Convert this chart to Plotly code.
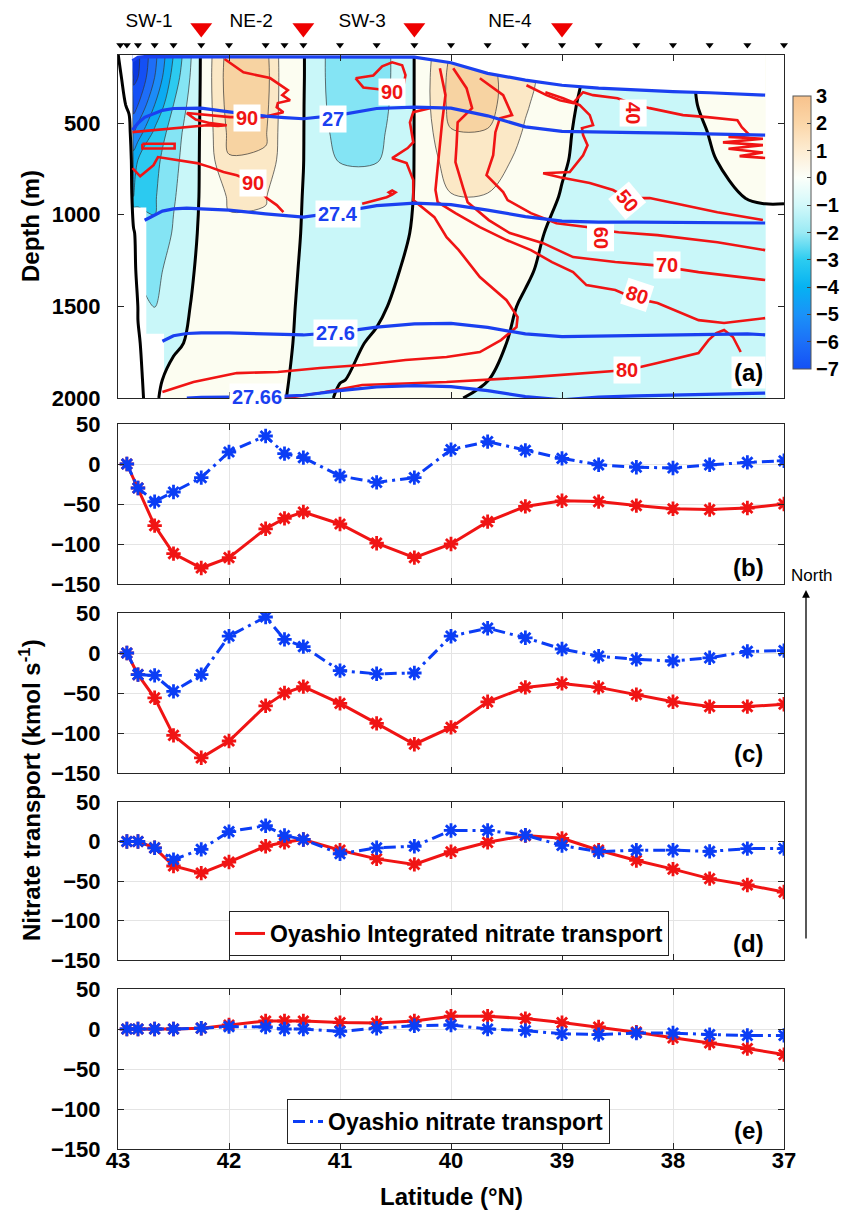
import numpy as np
import plotly.graph_objects as go

# ===================== DATA =====================
# CTD stations along the section (deg N) and deepest sampled depth (m) in each station cell
station_lat = [42.98, 42.92, 42.82, 42.67, 42.5, 42.25, 42.0, 41.67, 41.5, 41.33, 41.0,
               40.67, 40.33, 40.0, 39.67, 39.33, 39.0, 38.67, 38.33, 38.0, 37.67, 37.33, 37.0]
cast_max_depth = [0, 0, 960, 1650, 2000, 2000, 2000, 2000, 2000, 2000, 2000,
                  2000, 2000, 2000, 2000, 2000, 2000, 2000, 2000, 2000, 2000, 2000, 0]
eddy_lat = [42.25, 41.33, 40.33, 39.0]
eddy_name = ["SW-1", "NE-2", "SW-3", "NE-4"]

# velocity section (cm/s): one depth profile per latitude
vel_lat = [43.0, 42.9, 42.86, 42.82, 42.67, 42.5, 42.25, 42.0, 41.67, 41.5, 41.33, 41.0, 40.67,
           40.33, 40.0, 39.67, 39.33, 39.0, 38.67, 38.33, 38.0, 37.67, 37.33, 37.17, 37.0]
vel_depth = [120, 250, 400, 550, 700, 900, 1100, 1300, 1500, 1700, 1900, 2000]
vel_profiles = [
    [0.05, 2.0, 2.0, 2.0, 2.0, 2.0, 2.0, 2.0, 2.0, 2.0, 2.0, 2.0],
    [-7.3, -4.5, -0.9, 1.7, 3.5, 5.0, 3.0, 3.0, 3.0, 3.0, 3.0, 3.0],
    [-7.3, -7.2, -6.5, -5.0, -3.5, -3.0, 0.5, 1.2, 1.5, 1.5, 1.5, 1.5],
    [-7.2, -7.0, -6.0, -4.5, -3.0, -2.2, -1.5, -1.2, -0.05, 0.077, 0.078, 0.05],
    [-5.3, -5.0, -4.0, -2.8, -2.3, -2.1, -1.9, -1.3, -1.05, -0.5, -0.21, -0.1],
    [-3.0, -2.6, -2.0, -1.5, -1.3, -1.1, -0.9, -0.6, -0.375, -0.17, 0.3, 0.35],
    [0.1, 0.1, 0.1, 0.1, 0.1, 0.1, 0.15, 0.2, 0.25, 0.3, 0.3, 0.3],
    [2.4, 2.5, 2.4, 2.2, 1.95, 1.1, 0.85, 0.6, 0.45, 0.4, 0.3, 0.3],
    [2.3, 2.4, 2.3, 2.1, 1.9, 1.05, 0.85, 0.6, 0.45, 0.4, 0.3, 0.3],
    [0.4, 0.4, 0.4, 0.4, 0.35, 0.3, 0.3, 0.25, 0.2, 0.2, 0.15, 0.1],
    [0.05, 0.05, 0.03, 0.02, 0.01, -0.02, -0.05, -0.1, -0.15, -0.25, -0.5, -0.9],
    [-1.7, -1.7, -1.6, -1.4, -1.05, -0.7, -0.6, -0.5, -0.45, -0.3, -0.05, 0.2],
    [-1.6, -1.6, -1.5, -1.3, -1.05, -0.7, -0.5, -0.4, -0.2, 0.15, 0.28, 0.35],
    [0.01, 0.01, 0.01, 0.01, 0.01, 0.02, 0.07, 0.25, 0.5, 0.5, 0.5, 0.5],
    [2.1, 2.3, 2.3, 1.95, 1.5, 0.95, 0.7, 0.55, 0.5, 0.45, 0.4, 0.4],
    [2.1, 2.3, 2.3, 1.95, 1.5, 0.95, 0.7, 0.55, 0.5, 0.45, 0.03, -0.8],
    [1.0, 1.2, 1.1, 0.9, 0.7, 0.5, 0.35, 0.16, -0.15, -0.45, -0.5, -0.6],
    [0.5, 0.48, 0.26, 0.15, 0.09, -0.05, -0.33, -0.5, -0.55, -0.6, -0.6, -0.6],
    [-0.4, -0.4, -0.4, -0.4, -0.4, -0.4, -0.45, -0.45, -0.45, -0.45, -0.45, -0.45],
    [-0.4, -0.4, -0.4, -0.4, -0.4, -0.4, -0.45, -0.45, -0.45, -0.45, -0.45, -0.45],
    [-0.3, -0.35, -0.4, -0.4, -0.4, -0.4, -0.45, -0.45, -0.45, -0.45, -0.45, -0.45],
    [0.3, 0.25, 0.2, 0.025, -0.064, -0.38, -0.4, -0.45, -0.45, -0.45, -0.45, -0.45],
    [0.4, 0.4, 0.4, 0.35, 0.3, 0.044, -0.4, -0.45, -0.45, -0.45, -0.45, -0.45],
    [0.4, 0.4, 0.4, 0.4, 0.35, 0.1, -0.4, -0.45, -0.45, -0.45, -0.45, -0.45],
    [0.4, 0.4, 0.4, 0.4, 0.35, 0.1, -0.4, -0.45, -0.45, -0.45, -0.45, -0.45],
]

# isopycnal depths (m)
iso_lat = [42.87, 42.82, 42.76, 42.67, 42.6, 42.5, 42.38, 42.25, 42.0, 41.67, 41.5, 41.33, 41.0,
           40.67, 40.33, 40.0, 39.67, 39.33, 39.0, 38.67, 38.33, 38.0, 37.67, 37.33, 37.17]
sig_top = [160, 140, 137, 137, 137, 137, 137, 137, 137, 137, 137, 138, 138,
           138, 140, 170, 228, 265, 293, 309, 320, 328, 334, 342, 347]
sig_270 = [538, 500, 468, 445, 430, 420, 418, 418, 438, 462, 470, 476, 455,
           420, 413, 418, 460, 520, 545, 550, 552, 554, 557, 562, 565]
sig_274 = [None, None, 1030, 1000, 980, 968, 964, 968, 975, 995, 1005, 1013, 985,
           950, 936, 945, 975, 1010, 1035, 1040, 1040, 1042, 1043, 1045, 1045]
sig_276 = [None, None, None, None, 1690, 1660, 1648, 1645, 1645, 1650, 1655, 1656, 1640,
           1613, 1595, 1593, 1615, 1650, 1665, 1662, 1658, 1655, 1650, 1650, 1655]
sig_2766 = [None, None, None, None, None, None, 2000, 1996, 1995, 1995, 1990, 1985, 1960,
            1940, 1932, 1938, 1960, 1992, 2010, 1995, 1988, 1984, 1980, 1975, 1973]

# nitrate isolines (lat, depth)
no3_90a_lat = [42.04, 41.87, 41.63, 41.54, 41.47, 41.52, 41.45, 41.56, 41.57, 41.51, 41.69, 41.99,
               42.17, 42.38, 42.30, 42.17, 42.02, 42.10, 42.20, 42.45, 42.65, 42.87]
no3_90a_dep = [150, 222, 254, 293, 320, 347, 375, 390, 413, 440, 467, 467,
               456, 445, 480, 500, 511, 515, 511, 525, 535, 549]
no3_90s_lat = [42.78, 42.49, 42.49, 42.78, 42.78]
no3_90s_dep = [612, 612, 638, 638, 612]
no3_90b_lat = [42.87, 42.80, 42.74, 42.68, 42.64, 42.47, 42.29, 42.17, 42.05, 41.93, 41.78,
               41.66, 41.57, 41.51]
no3_90b_dep = [745, 790, 760, 729, 685, 702, 718, 740, 767, 784, 822, 909, 947, 985]
no3_90c_lat = [40.86, 40.79, 40.65, 40.53, 40.43, 40.41, 40.44, 40.53, 40.62, 40.70, 40.86]
no3_90c_dep = [255, 305, 315, 331, 300, 238, 184, 168, 190, 240, 255]
no3_90d_lat = [40.80, 40.65, 40.58, 40.53, 40.50, 40.53, 40.56, 40.53]
no3_90d_dep = [940, 915, 904, 890, 878, 868, 878, 890]
no3_40_lat = [39.32, 39.14, 39.02, 38.90, 38.81, 38.72, 38.50, 38.36, 38.21, 37.91, 37.69, 37.42,
              37.38, 37.31, 37.50, 37.19, 37.55, 37.19, 37.50, 37.19, 37.40, 37.17]
no3_40_dep = [293, 347, 375, 391, 331, 347, 364, 395, 418, 456, 467, 484,
              522, 565, 575, 585, 605, 620, 640, 660, 680, 690]
no3_50_lat = [39.15, 38.99, 38.84, 38.75, 38.72, 38.82, 38.81, 38.77, 38.81, 38.86, 38.93, 39.17,
              39.02, 38.75, 38.54, 38.41, 38.21, 37.91, 37.60, 37.19]
no3_50_dep = [331, 364, 402, 456, 511, 527, 565, 620, 675, 713, 767, 773,
              795, 827, 865, 909, 909, 947, 986, 1029]
no3_60_lat = [39.74, 39.53, 39.45, 39.56, 39.60, 39.62, 39.68, 39.53, 39.49, 39.28, 39.05, 38.78,
              38.63, 38.49, 38.14, 37.60, 37.17]
no3_60_dep = [255, 347, 456, 473, 549, 675, 784, 876, 920, 991, 1046, 1067,
              1085, 1095, 1111, 1150, 1193]
no3_70_lat = [39.98, 39.86, 39.81, 39.94, 39.95, 39.96, 39.89, 39.85, 39.66, 39.47, 39.17, 38.90,
              38.52, 38.18, 37.77, 37.17]
no3_70_dep = [200, 309, 418, 495, 620, 713, 855, 931, 1029, 1100, 1155, 1231,
              1258, 1275, 1313, 1356]
no3_80r_lat = [40.10, 40.05, 40.08, 40.10, 40.13, 40.14, 40.12, 39.96, 39.74, 39.50, 39.28, 39.09,
               38.90, 38.78, 38.52, 38.35, 38.14, 37.77, 37.54, 37.17]
no3_80r_dep = [200, 347, 495, 620, 767, 865, 931, 991, 1067, 1138, 1193, 1258,
               1313, 1384, 1411, 1455, 1482, 1575, 1591, 1564]
no3_80l_lat = [40.19, 40.34, 40.37, 40.34, 40.39, 40.53, 40.40, 40.34, 40.34, 40.15, 40.04, 39.93,
               39.74, 39.50, 39.40, 39.41, 39.55, 39.74, 40.04, 40.41, 40.80, 41.18, 41.56, 41.93,
               42.32, 42.60]
no3_80l_dep = [418, 440, 495, 604, 636, 691, 718, 811, 920, 1013, 1122, 1193,
               1340, 1466, 1558, 1613, 1684, 1749, 1776, 1793, 1820, 1836, 1858, 1864,
               1913, 1967]
no3_80b_lat = [41.60, 41.41, 41.18, 40.80, 40.04, 39.28, 38.71, 38.41, 38.14, 37.77, 37.68, 37.61,
               37.54, 37.46, 37.39]
no3_80b_dep = [2010, 1995, 1973, 1929, 1913, 1886, 1858, 1847, 1809, 1755, 1684, 1646,
               1629, 1667, 1749]

# nitrate transport (kmol/s)
tr_lat = [42.92, 42.82, 42.67, 42.5, 42.25, 42.0, 41.67, 41.5, 41.33, 41.0, 40.67, 40.33,
          40.0, 39.67, 39.33, 39.0, 38.67, 38.33, 38.0, 37.67, 37.33, 37.0]
b_integrated = [0, -30, -77, -112, -130, -117, -81, -68, -60, -75, -99, -117,
                -100, -72, -53, -46, -47, -52, -56, -57, -55, -50]
b_oyashio = [0, -30, -47, -35, -17, 15, 35, 13, 8, -15, -23, -17,
             18, 28, 17, 7, -1, -4, -5, -1, 2, 4]
c_integrated = [0, -27, -56, -103, -131, -110, -66, -50, -42, -63, -88, -114,
                -93, -61, -43, -38, -43, -52, -61, -67, -67, -64]
c_oyashio = [0, -27, -28, -48, -27, 21, 45, 17, 8, -22, -26, -25,
             21, 31, 19, 5, -4, -8, -10, -6, 2, 3]
d_integrated = [0, 0, -8, -31, -40, -26, -6, -1, 2.5, -11, -22, -29,
                -13, -1, 7.5, 4, -11, -24, -35, -47, -55, -64]
d_oyashio = [0, 0, -8, -23, -10, 12.5, 20, 7.5, 2.5, -15.5, -8, -6,
             14, 14, 8, -5, -13, -11, -11, -12.5, -9, -9]
e_integrated = [0, 0, 0, 0, 1, 5, 10, 10, 10, 8, 7.5, 10,
                16, 16, 13, 8, 2.5, -4, -11, -17.5, -24.5, -32]
e_oyashio = [0, 0, 0, 0, 1, 3, 2.5, 0, 0, -3, 1, 4,
             5, 0, -2, -6, -7, -5, -5, -7, -8, -8]

lat_ticks = [43, 42, 41, 40, 39, 38, 37]
depth_ticks = [500, 1000, 1500, 2000]
tr_ticks = [-150, -100, -50, 0, 50]
cbar_ticks = [-7, -6, -5, -4, -3, -2, -1, 0, 1, 2, 3]

# ===================== STYLE / LAYOUT =====================
W, H = 851, 1220
FONT = "Liberation Sans"
RED = "#f01414"
BLUE = "#0b3df5"
ISO_BLUE = "#1a40f0"


def fx(p):
    return p / W


def fy(p):
    return 1 - p / H


X_DOM = [fx(118), fx(784)]
DOM_A = [fy(398), fy(55)]
DOM_B = [fy(584), fy(424)]
DOM_C = [fy(773), fy(613)]
DOM_D = [fy(960), fy(802)]
DOM_E = [fy(1149), fy(989)]

band_colors = ["#0a38e0", "#1450f5", "#1e6ef8", "#1c8cf8", "#0cabf2", "#2ccaf0",
               "#84e4f4", "#c9f7f9", "#fcfdf1", "#fbe8c6", "#f7d3a2", "#f5c089"]
colorscale = [[k / 11, c] for k, c in enumerate(band_colors)]
cbar_colors = ["#1450f5", "#1c70f8", "#1a92f8", "#06b2f2", "#2cccf0", "#9aeaf4",
               "#d2f8fa", "#fbfffa", "#fdecd2", "#fbd6a8", "#f7c28c"]
cbar_scale = [[k / 10, c] for k, c in enumerate(cbar_colors)]

fig = go.Figure()

# ---- panel (a): velocity filled contours (base subplot) ----
z = np.array(vel_profiles).T  # rows=depth, cols=lat
order = np.argsort(vel_lat)
xs = np.array(vel_lat)[order]
zs = z[:, order]
fig.add_trace(go.Contour(
    x=xs, y=vel_depth, z=zs, xaxis="x", yaxis="y",
    autocontour=False, contours=dict(start=-7, end=3, size=1, coloring="fill", showlines=True),
    line=dict(color="#333333", width=0.7, smoothing=1),
    colorscale=colorscale, hoverinfo="skip", showscale=False, showlegend=False))

# no-data mask built from the cast depths
edges = [station_lat[0] + (station_lat[0] - station_lat[1]) / 2]
for i in range(len(station_lat) - 1):
    edges.append((station_lat[i] + station_lat[i + 1]) / 2)
edges.append(station_lat[-1] - (station_lat[-2] - station_lat[-1]) / 2)
mx, my = [], []
for i, b in enumerate(cast_max_depth):
    mx += [edges[i], edges[i + 1]]
    my += [b, b]
mx += [edges[-1], edges[0], edges[0]]
my += [2200, 2200, cast_max_depth[0]]
fig.add_trace(go.Scatter(x=mx, y=my, mode="lines", fill="toself", fillcolor="white",
                         line=dict(width=0), xaxis="x", yaxis="y", hoverinfo="skip",
                         showlegend=False))

# colorbar (velocity, cm/s)
fig.add_trace(go.Scatter(
    x=[None], y=[None], mode="markers", xaxis="x", yaxis="y", hoverinfo="skip", showlegend=False,
    marker=dict(color=[0], cmin=-7, cmax=3, colorscale=cbar_scale, showscale=True,
                colorbar=dict(x=fx(793), xanchor="left", xpad=0, y=fy(96), yanchor="top", ypad=0,
                              len=(369 - 96) / H, lenmode="fraction", thickness=18,
                              outlinewidth=1, outlinecolor="#555555",
                              tickvals=cbar_ticks, ticks="inside", ticklen=4,
                              tickfont=dict(family=FONT, size=20, color="black",
                                            weight="bold")))))

# ---- overlay subplot: zero-velocity contour, top mask, nitrate and density lines ----
fig.add_trace(go.Contour(
    x=xs, y=vel_depth, z=zs, xaxis="x7", yaxis="y7",
    autocontour=False, contours=dict(start=0, end=0, size=1, coloring="none"),
    line=dict(color="black", width=3, smoothing=1), showscale=False, showlegend=False,
    hoverinfo="skip"))

fig.add_trace(go.Scatter(x=iso_lat + [iso_lat[-1], iso_lat[0]], y=sig_top + [0, 0],
                         mode="lines", fill="toself", fillcolor="white", line=dict(width=0),
                         xaxis="x7", yaxis="y7", hoverinfo="skip", showlegend=False))

for la, de in [(no3_90a_lat, no3_90a_dep), (no3_90s_lat, no3_90s_dep), (no3_90b_lat, no3_90b_dep),
               (no3_90c_lat, no3_90c_dep), (no3_90d_lat, no3_90d_dep), (no3_40_lat, no3_40_dep),
               (no3_50_lat, no3_50_dep), (no3_60_lat, no3_60_dep), (no3_70_lat, no3_70_dep),
               (no3_80r_lat, no3_80r_dep), (no3_80l_lat, no3_80l_dep), (no3_80b_lat, no3_80b_dep)]:
    fig.add_trace(go.Scatter(x=la, y=de, mode="lines", line=dict(color=RED, width=2.6),
                             xaxis="x7", yaxis="y7", hoverinfo="skip", showlegend=False))

for sig in [sig_top, sig_270, sig_274, sig_276, sig_2766]:
    fig.add_trace(go.Scatter(x=iso_lat, y=sig, mode="lines", line=dict(color=ISO_BLUE, width=3.2),
                             connectgaps=False, xaxis="x7", yaxis="y7", hoverinfo="skip",
                             showlegend=False))

# station strip above panel (a)
fig.add_trace(go.Scatter(x=station_lat, y=[45] * len(station_lat), mode="markers",
                         marker=dict(symbol="triangle-down", size=7, color="black"),
                         xaxis="x6", yaxis="y6", hoverinfo="skip", showlegend=False,
                         cliponaxis=False))
fig.add_trace(go.Scatter(x=eddy_lat, y=[28] * len(eddy_lat), mode="markers",
                         marker=dict(symbol="triangle-down", size=19, color="#ee0000"),
                         xaxis="x6", yaxis="y6", hoverinfo="skip", showlegend=False,
                         cliponaxis=False))
fig.add_trace(go.Scatter(x=[v + 0.47 for v in eddy_lat], y=[22] * len(eddy_lat), mode="text",
                         text=eddy_name, textfont=dict(family=FONT, size=19, color="black"),
                         xaxis="x6", yaxis="y6", hoverinfo="skip", showlegend=False,
                         cliponaxis=False))

# ---- panels (b)-(e): transports ----
panels = [("2", b_integrated, b_oyashio), ("3", c_integrated, c_oyashio),
          ("4", d_integrated, d_oyashio), ("5", e_integrated, e_oyashio)]
DASHDOT = "12px,5px,3px,5px"
for ax, red_vals, blue_vals in panels:
    fig.add_trace(go.Scatter(x=tr_lat, y=red_vals, mode="lines+markers",
                             line=dict(color=RED, width=3),
                             marker=dict(symbol="asterisk-open", size=12,
                                         line=dict(color=RED, width=2.8)),
                             xaxis="x" + ax, yaxis="y" + ax, hoverinfo="skip",
                             showlegend=False))
    fig.add_trace(go.Scatter(x=tr_lat, y=blue_vals, mode="lines+markers",
                             line=dict(color=BLUE, width=3, dash=DASHDOT),
                             marker=dict(symbol="asterisk-open", size=12,
                                         line=dict(color=BLUE, width=2.8)),
                             xaxis="x" + ax, yaxis="y" + ax, hoverinfo="skip",
                             showlegend=False))

# legend entries
fig.add_trace(go.Scatter(x=[None], y=[None], mode="lines", line=dict(color=RED, width=3),
                         name="Oyashio Integrated nitrate transport", xaxis="x4", yaxis="y4",
                         legend="legend"))
fig.add_trace(go.Scatter(x=[None], y=[None], mode="lines",
                         line=dict(color=BLUE, width=3, dash=DASHDOT),
                         name="Oyashio nitrate transport", xaxis="x5", yaxis="y5",
                         legend="legend2"))

tickfont = dict(family=FONT, size=22, color="black", weight="bold")
base_axis = dict(showline=True, linecolor="#262626", linewidth=1, mirror="ticks",
                 ticks="inside", ticklen=6, tickcolor="#262626", showgrid=True,
                 gridcolor="#e4e4e4", gridwidth=1, zeroline=False, tickfont=tickfont,
                 automargin=False)
legend_font = dict(family=FONT, size=23, color="black", weight="bold")

layout = dict(
    width=W, height=H, margin=dict(l=0, r=0, t=0, b=0, autoexpand=False),
    paper_bgcolor="white", plot_bgcolor="white",
    xaxis=dict(base_axis, domain=X_DOM, anchor="y", range=[43, 37], tickvals=lat_ticks,
               showticklabels=False),
    yaxis=dict(base_axis, domain=DOM_A, anchor="x", range=[2000, 128], tickvals=depth_ticks,
               ticklabelstandoff=12),
    xaxis7=dict(overlaying="x", anchor="y7", range=[43, 37], visible=False),
    yaxis7=dict(overlaying="y", anchor="x7", range=[2000, 128], visible=False),
    xaxis6=dict(domain=X_DOM, anchor="y6", range=[43, 37], visible=False),
    yaxis6=dict(domain=[fy(55), 1], anchor="x6", range=[55, 0], visible=False),
    legend=dict(x=fx(229), y=fy(911), xanchor="left", yanchor="top", bgcolor="white",
                bordercolor="#222222", borderwidth=1, font=legend_font),
    legend2=dict(x=fx(287), y=fy(1099), xanchor="left", yanchor="top", bgcolor="white",
                 bordercolor="#222222", borderwidth=1, font=legend_font),
)
for ax, dom in [("2", DOM_B), ("3", DOM_C), ("4", DOM_D), ("5", DOM_E)]:
    layout["xaxis" + ax] = dict(base_axis, domain=X_DOM, anchor="y" + ax,
                                range=[43, 37], tickvals=lat_ticks,
                                showticklabels=(ax == "5"), ticklabelstandoff=-8)
    layout["yaxis" + ax] = dict(base_axis, domain=dom, anchor="x" + ax, range=[-150, 50],
                                tickvals=tr_ticks, ticklabelstandoff=12)
fig.update_layout(**layout)

# ---- annotations ----
ann = []
title_font = dict(family=FONT, size=24, color="black", weight="bold")
ann.append(dict(text="Depth (m)", x=fx(30), y=fy(226), xref="paper", yref="paper",
                xanchor="center", yanchor="middle", textangle=-90, showarrow=False,
                font=title_font))
ann.append(dict(text="Nitrate transport (kmol s<sup>-1</sup>)", x=fx(30), y=fy(790),
                xref="paper", yref="paper", xanchor="center", yanchor="middle", textangle=-90,
                showarrow=False, font=title_font))
ann.append(dict(text="Latitude (\u00b0N)", x=fx(451), y=fy(1196), xref="paper", yref="paper",
                xanchor="center", yanchor="middle", showarrow=False, font=title_font))
for lab, ypx in [("(a)", 372), ("(b)", 567), ("(c)", 753), ("(d)", 943), ("(e)", 1130)]:
    ann.append(dict(text=lab, x=fx(748), y=fy(ypx), xref="paper", yref="paper",
                    xanchor="center", yanchor="middle", showarrow=False, bgcolor="white",
                    borderpad=2, font=dict(family=FONT, size=24, color="black", weight="bold")))
# North arrow
ann.append(dict(text="", x=fx(806), y=fy(590), xref="paper", yref="paper", ax=0, ay=350,
                axref="pixel", ayref="pixel", showarrow=True, arrowhead=2, arrowsize=1.2,
                arrowwidth=1.3, arrowcolor="black"))
ann.append(dict(text="North", x=fx(812), y=fy(575), xref="paper", yref="paper",
                xanchor="center", yanchor="middle", showarrow=False,
                font=dict(family=FONT, size=17, color="black")))

# contour labels in panel (a)
iso_labels = [("27", 41.06, 478), ("27.4", 41.02, 995), ("27.6", 41.04, 1646),
              ("27.66", 41.75, 1997)]
for t, la, de in iso_labels:
    ann.append(dict(text=t, x=la, y=de, xref="x", yref="y", showarrow=False, bgcolor="white",
                    borderpad=2, font=dict(family=FONT, size=20, color=ISO_BLUE, weight="bold")))
no3_labels = [("90", 41.84, 473, 0), ("90", 41.78, 827, 0), ("90", 40.53, 331, 0),
              ("40", 38.36, 445, 90), ("50", 38.41, 925, 50), ("60", 38.65, 1125, 90),
              ("70", 38.05, 1275, 0), ("80", 38.32, 1440, 18), ("80", 38.41, 1847, 0)]
for t, la, de, ang in no3_labels:
    ann.append(dict(text=t, x=la, y=de, xref="x", yref="y", showarrow=False, bgcolor="white",
                    borderpad=2, textangle=ang,
                    font=dict(family=FONT, size=20, color=RED, weight="bold")))
fig.update_layout(annotations=ann)

fig.write_html("out.html", config={"displayModeBar": False},
               post_script="document.body.style.margin='0px';"
                           "document.body.style.overflow='hidden';")
